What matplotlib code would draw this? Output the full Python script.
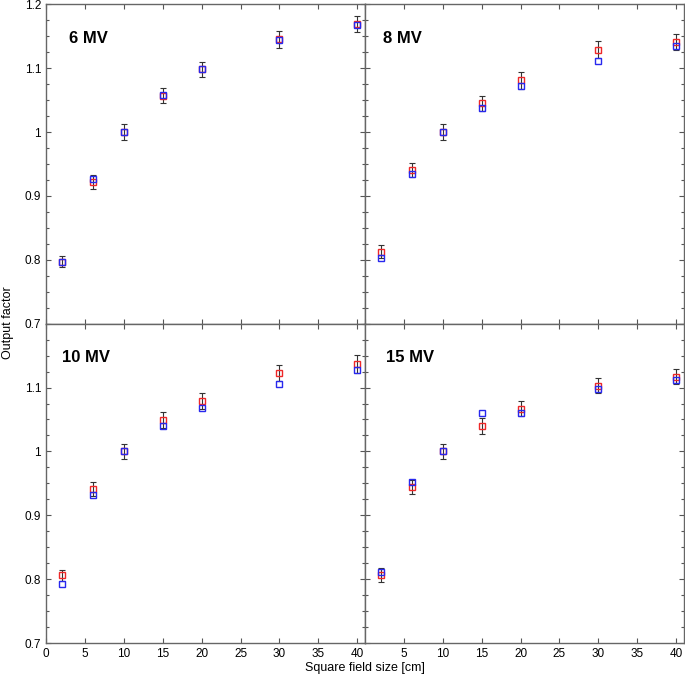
import numpy as np
import matplotlib
matplotlib.use('Agg')
import matplotlib.pyplot as plt
from matplotlib.ticker import MultipleLocator
plt.rcParams.update({'font.size': 8.5, 'font.family': ['Liberation Sans', 'DejaVu Sans']})


# square field sizes [cm]
field_sizes = [2, 6, 10, 15, 20, 30, 40]
energies = ['6 MV', '8 MV', '10 MV', '15 MV']

# red series (with error bars)
red_6mv = [0.797, 0.922, 1.0, 1.057, 1.098, 1.145, 1.169]
red_8mv = [0.813, 0.941, 1.0, 1.045, 1.081, 1.129, 1.141]
red_10mv = [0.806, 0.941, 1.0, 1.049, 1.079, 1.123, 1.137]
red_15mv = [0.807, 0.944, 1.0, 1.040, 1.067, 1.103, 1.117]

# blue series
blue_6mv = [0.797, 0.926, 1.0, 1.058, 1.098, 1.144, 1.168]
blue_8mv = [0.803, 0.934, 1.0, 1.037, 1.072, 1.111, 1.135]
blue_10mv = [0.793, 0.932, 1.0, 1.040, 1.068, 1.106, 1.127]
blue_15mv = [0.811, 0.952, 1.0, 1.060, 1.060, 1.098, 1.112]

# error bar half widths
err_6mv = [0.009, 0.011, 0.012, 0.012, 0.012, 0.013, 0.013]
err_8mv = [0.010, 0.011, 0.012, 0.012, 0.013, 0.013, 0.013]
err_10mv = [0.009, 0.011, 0.012, 0.012, 0.013, 0.013, 0.014]
err_15mv = [0.011, 0.011, 0.012, 0.012, 0.012, 0.012, 0.012]

x_ticks = [0, 5, 10, 15, 20, 25, 30, 35, 40]
y_ticks = [0.7, 0.8, 0.9, 1.0, 1.1, 1.2]
y_tick_labels = ['0.7', '0.8', '0.9', '1', '1.1', '1.2']


"""
Draw one energy panel
"""
def plot_panel(ax, label, label_x, red, blue, err):

	ax.errorbar(field_sizes, red, yerr=err, fmt='none', ecolor='#333333',
		elinewidth=0.8, capsize=2.5, capthick=0.8, zorder=2)
	ax.plot(field_sizes, red, 's', mfc='none', mec='#ee2828', mew=1.0, ms=5, zorder=3)
	ax.plot(field_sizes, blue, 's', mfc='none', mec='#2828ee', mew=1.0, ms=5, zorder=4)

	ax.text(label_x, 0.893, label, transform=ax.transAxes, fontsize=12,
		fontweight='bold', va='center')

	ax.set_xlim(0, 41)
	ax.set_ylim(0.7, 1.2)
	ax.set_xticks(x_ticks)
	ax.set_yticks(y_ticks)
	ax.set_yticklabels(y_tick_labels)
	ax.yaxis.set_minor_locator(MultipleLocator(0.025))
	ax.tick_params(which='both', direction='in', top=True, right=True,
		colors='#555555', labelcolor='black', width=0.8)
	ax.tick_params(which='major', length=3.5)
	ax.tick_params(which='minor', length=2.5)
	for s in ax.spines.values():
		s.set_color('#666666')
		s.set_linewidth(1.0)


def main():

	fig, axes = plt.subplots(2, 2, figsize=(6.85, 6.87), dpi=100)
	fig.subplots_adjust(left=0.0672, right=0.9985, top=0.9937, bottom=0.064,
		wspace=0, hspace=0)

	reds = [red_6mv, red_8mv, red_10mv, red_15mv]
	blues = [blue_6mv, blue_8mv, blue_10mv, blue_15mv]
	errs = [err_6mv, err_8mv, err_10mv, err_15mv]
	label_xs = [0.072, 0.056, 0.05, 0.066]

	for i, ax in enumerate(axes.flat):
		plot_panel(ax, energies[i], label_xs[i], reds[i], blues[i], errs[i])

	# only outer tick labels
	axes[0, 0].tick_params(labelbottom=False)
	axes[0, 1].tick_params(labelbottom=False, labelleft=False)
	axes[1, 1].tick_params(labelleft=False)
	axes[1, 0].set_yticks(y_ticks[:-1])
	axes[1, 0].set_yticklabels(y_tick_labels[:-1])
	axes[1, 1].set_xticks(x_ticks[1:])

	fig.text(0.533, 0.027, 'Square field size [cm]', ha='center', va='center', fontsize=9)
	fig.text(0.012, 0.53, 'Output factor', ha='center', va='center', rotation=90, fontsize=9)

	plt.savefig('out.png', dpi=100)


if __name__ == '__main__':
	main()
